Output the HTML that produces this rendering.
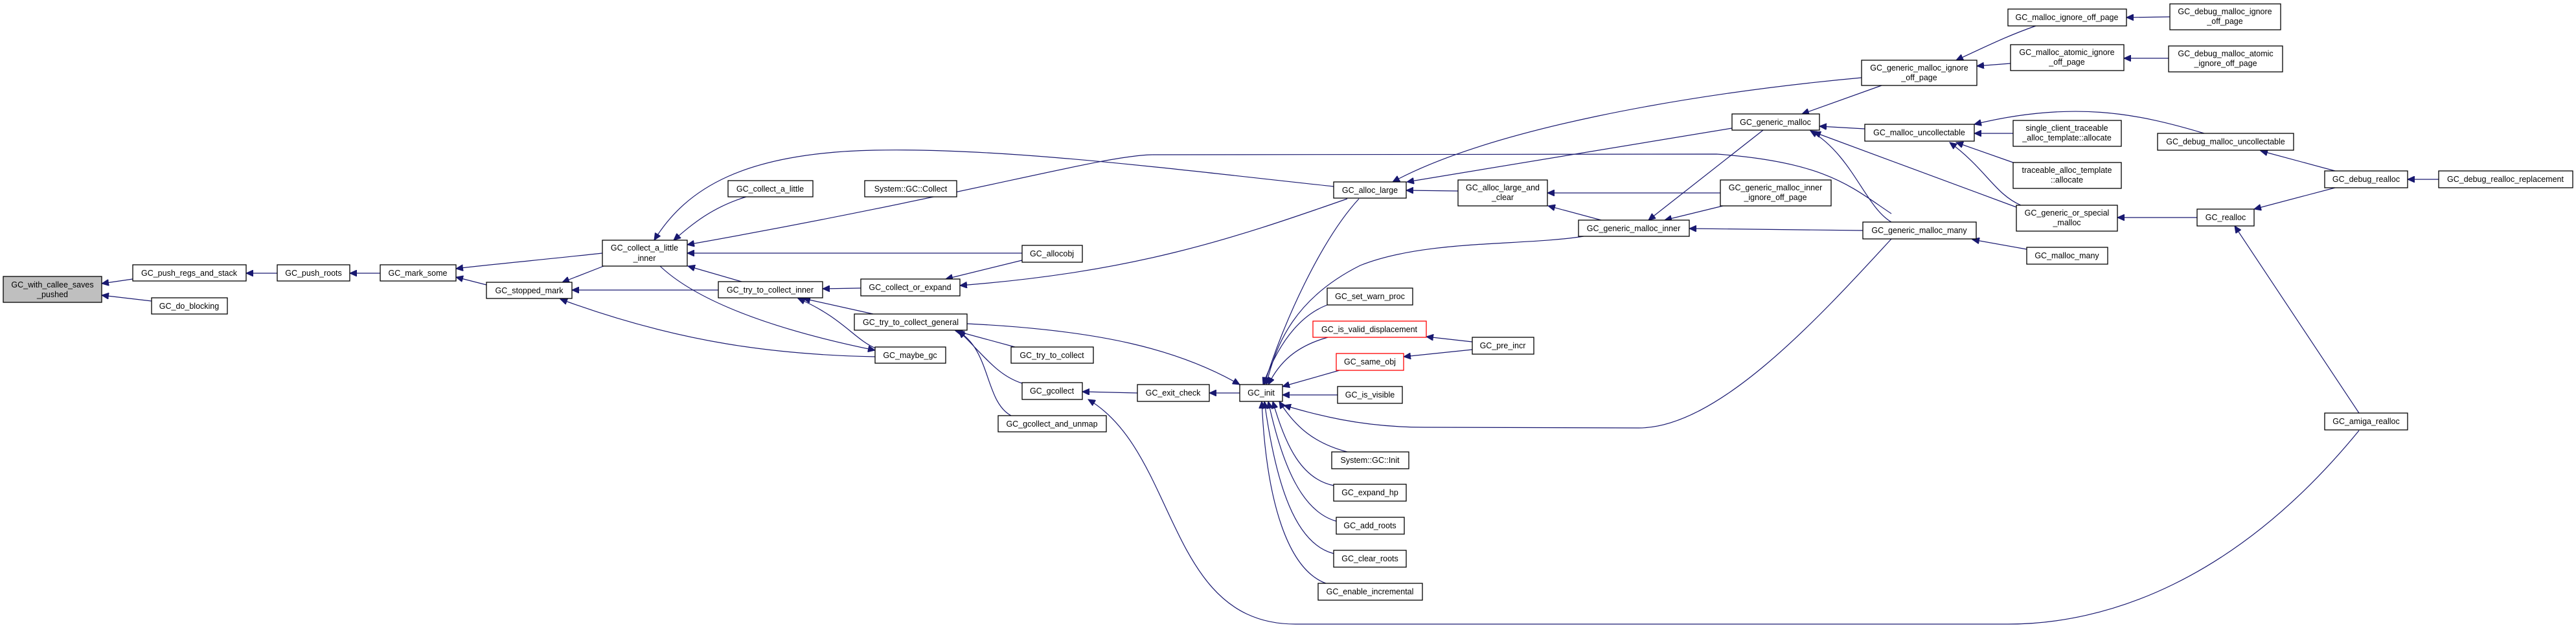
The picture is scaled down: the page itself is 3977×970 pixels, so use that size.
<!DOCTYPE html>
<html><head><meta charset="utf-8"><style>
html,body{margin:0;padding:0;background:#fff;}
svg{display:block;}
text{font-family:"Liberation Sans",Arial,sans-serif;font-size:12.5px;fill:#000;}
.n{fill:#fff;stroke:#000;stroke-width:1.3;}
.e{fill:none;stroke:#191970;stroke-width:1.2;}
</style></head><body>
<svg width="3977" height="970" viewBox="0 0 3977 970" xmlns="http://www.w3.org/2000/svg">
<defs><marker id="a" markerUnits="userSpaceOnUse" markerWidth="12" markerHeight="10" refX="11" refY="5" orient="auto"><path d="M0,0 L11,5 L0,10 z" fill="#191970" stroke="#191970"/></marker></defs>
<g class="e" marker-end="url(#a)">
<path d="M205,431 L157,438"/>
<path d="M234,465 L157,456"/>
<path d="M428,422 L380,422"/>
<path d="M587,422 L540,422"/>
<path d="M930,391 C850,400 760,408 704,415"/>
<path d="M751,440 L704,428"/>
<path d="M932,411 L868,436"/>
<path d="M1109,448 L883,448"/>
<path d="M1351,551 C1200,548 1050,530 865,462"/>
<path d="M1152,304 C1100,320 1070,345 1040,371"/>
<path d="M1145,435 L1062,411"/>
<path d="M2059,288 C1800,260 1550,228 1350,232 C1150,236 1060,290 1010,371"/>
<path d="M2920,330 C2860,290 2820,250 2650,238 L1780,239 C1700,240 1500,300 1061,378"/>
<path d="M1578,391 L1061,391"/>
<path d="M1019,411 C1060,450 1150,500 1351,541"/>
<path d="M1329,445 L1270,446"/>
<path d="M1348,485 L1240,461"/>
<path d="M1352,538 C1320,525 1300,490 1232,461"/>
<path d="M1578,402 L1460,431"/>
<path d="M2080,307 C1900,370 1750,420 1482,441"/>
<path d="M1567,536 L1475,511"/>
<path d="M1578,592 C1540,580 1520,550 1480,511"/>
<path d="M1561,642 C1520,620 1530,540 1478,511"/>
<path d="M1493,500 C1700,510 1820,540 1914,594"/>
<path d="M1756,607 L1671,605"/>
<path d="M1914,607 L1867,607"/>
<path d="M3642,665 C3450,900 3250,964 3100,964 L2000,964 C1800,964 1820,700 1680,617"/>
<path d="M2049,471 C2000,490 1970,540 1950,594"/>
<path d="M2050,521 C2000,535 1975,560 1958,594"/>
<path d="M2068,572 L1980,597"/>
<path d="M2065,610 L1980,610"/>
<path d="M2080,698 C2030,685 2000,660 1975,620"/>
<path d="M2059,750 C2010,740 1985,690 1965,620"/>
<path d="M2063,805 C2010,790 1980,720 1958,620"/>
<path d="M2059,855 C2000,840 1970,750 1952,620"/>
<path d="M2047,901 C1990,880 1955,780 1948,620"/>
<path d="M2098,307 C2040,370 1980,500 1952,594"/>
<path d="M2445,365 C2350,380 2200,370 2100,410 C2000,460 1970,530 1955,594"/>
<path d="M2920,369 C2800,500 2650,661 2530,661 L2200,660 C2100,660 2030,640 1982,626"/>
<path d="M2251,295 L2171,294"/>
<path d="M2674,198 L2172,281"/>
<path d="M2874,120 C2600,145 2300,200 2150,281"/>
<path d="M2656,298 L2389,298"/>
<path d="M2472,340 L2390,318"/>
<path d="M2722,201 L2545,340"/>
<path d="M2660,318 L2570,340"/>
<path d="M2876,356 L2608,353"/>
<path d="M2273,528 L2202,520"/>
<path d="M2273,540 L2167,551"/>
<path d="M2905,132 L2782,176"/>
<path d="M2879,199 L2809,195"/>
<path d="M2920,343 C2880,320 2860,240 2795,202"/>
<path d="M3113,320 L2800,204"/>
<path d="M3120,317 C3080,300 3065,260 3010,220"/>
<path d="M3108,251 L3020,220"/>
<path d="M3108,206 L3048,206"/>
<path d="M3403,206 C3300,175 3200,155 3048,192"/>
<path d="M3143,40 C3100,55 3070,70 3020,93"/>
<path d="M3104,98 L3052,102"/>
<path d="M3350,26 L3283,27"/>
<path d="M3348,90 L3279,90"/>
<path d="M3129,385 L3045,370"/>
<path d="M3392,336 L3269,336"/>
<path d="M3605,290 L3480,323"/>
<path d="M3642,638 L3450,349"/>
<path d="M3605,264 L3490,233"/>
<path d="M3765,277 L3717,277"/>
</g>
<g>
<rect x="5" y="427" width="152" height="40" fill="#bfbfbf" stroke="#000" stroke-width="1.3"/>
<text x="81" y="444" text-anchor="middle">GC_with_callee_saves</text><text x="81" y="459" text-anchor="middle">_pushed</text>
</g>
<g text-anchor="middle">
<rect class="n" x="205" y="409" width="175" height="25"/><text x="292" y="426">GC_push_regs_and_stack</text>
<rect class="n" x="234" y="460" width="117" height="25"/><text x="292" y="477">GC_do_blocking</text>
<rect class="n" x="428" y="409" width="112" height="25"/><text x="484" y="426">GC_push_roots</text>
<rect class="n" x="587" y="409" width="117" height="25"/><text x="645" y="426">GC_mark_some</text>
<rect class="n" x="751" y="436" width="132" height="25"/><text x="817" y="453">GC_stopped_mark</text>
<rect class="n" x="930" y="371" width="131" height="40"/><text x="995" y="387">GC_collect_a_little</text><text x="995" y="403">_inner</text>
<rect class="n" x="1124" y="279" width="131" height="25"/><text x="1189" y="296">GC_collect_a_little</text>
<rect class="n" x="1335" y="279" width="142" height="25"/><text x="1406" y="296">System::GC::Collect</text>
<rect class="n" x="1578" y="379" width="93" height="26"/><text x="1624" y="396">GC_allocobj</text>
<rect class="n" x="1329" y="431" width="153" height="26"/><text x="1405" y="448">GC_collect_or_expand</text>
<rect class="n" x="1109" y="435" width="161" height="25"/><text x="1189" y="452">GC_try_to_collect_inner</text>
<rect class="n" x="1319" y="485" width="174" height="25"/><text x="1406" y="502">GC_try_to_collect_general</text>
<rect class="n" x="1351" y="536" width="109" height="25"/><text x="1405" y="553">GC_maybe_gc</text>
<rect class="n" x="1561" y="536" width="127" height="25"/><text x="1624" y="553">GC_try_to_collect</text>
<rect class="n" x="1578" y="591" width="93" height="26"/><text x="1624" y="608">GC_gcollect</text>
<rect class="n" x="1541" y="642" width="167" height="25"/><text x="1624" y="659">GC_gcollect_and_unmap</text>
<rect class="n" x="1756" y="594" width="111" height="26"/><text x="1811" y="611">GC_exit_check</text>
<rect class="n" x="1914" y="594" width="66" height="26"/><text x="1947" y="611">GC_init</text>
<rect class="n" x="2059" y="281" width="112" height="25"/><text x="2115" y="298">GC_alloc_large</text>
<rect class="n" x="2251" y="278" width="138" height="40"/><text x="2320" y="294">GC_alloc_large_and</text><text x="2320" y="309">_clear</text>
<rect class="n" x="2437" y="340" width="171" height="25"/><text x="2522" y="357">GC_generic_malloc_inner</text>
<rect class="n" x="2674" y="176" width="135" height="25"/><text x="2741" y="193">GC_generic_malloc</text>
<rect class="n" x="2656" y="278" width="171" height="40"/><text x="2741" y="294">GC_generic_malloc_inner</text><text x="2741" y="309">_ignore_off_page</text>
<rect class="n" x="2874" y="93" width="178" height="39"/><text x="2963" y="109">GC_generic_malloc_ignore</text><text x="2963" y="124">_off_page</text>
<rect class="n" x="2879" y="192" width="169" height="26"/><text x="2963" y="209">GC_malloc_uncollectable</text>
<rect class="n" x="2876" y="343" width="175" height="26"/><text x="2963" y="360">GC_generic_malloc_many</text>
<rect class="n" x="2049" y="445" width="132" height="26"/><text x="2115" y="462">GC_set_warn_proc</text>
<rect x="2027" y="496" width="175" height="25" fill="#fff" stroke="#ff0000" stroke-width="1.3"/><text x="2114" y="513">GC_is_valid_displacement</text>
<rect x="2063" y="546" width="104" height="26" fill="#fff" stroke="#ff0000" stroke-width="1.3"/><text x="2115" y="563">GC_same_obj</text>
<rect class="n" x="2273" y="521" width="95" height="26"/><text x="2320" y="538">GC_pre_incr</text>
<rect class="n" x="2065" y="597" width="100" height="26"/><text x="2115" y="614">GC_is_visible</text>
<rect class="n" x="2056" y="698" width="119" height="26"/><text x="2115" y="715">System::GC::Init</text>
<rect class="n" x="2059" y="748" width="112" height="26"/><text x="2115" y="765">GC_expand_hp</text>
<rect class="n" x="2063" y="799" width="105" height="26"/><text x="2115" y="816">GC_add_roots</text>
<rect class="n" x="2059" y="850" width="112" height="26"/><text x="2115" y="867">GC_clear_roots</text>
<rect class="n" x="2035" y="901" width="161" height="26"/><text x="2115" y="918">GC_enable_incremental</text>
<rect class="n" x="3100" y="14" width="183" height="26"/><text x="3191" y="31">GC_malloc_ignore_off_page</text>
<rect class="n" x="3350" y="6" width="171" height="40"/><text x="3435" y="22">GC_debug_malloc_ignore</text><text x="3435" y="37">_off_page</text>
<rect class="n" x="3104" y="69" width="175" height="40"/><text x="3191" y="85">GC_malloc_atomic_ignore</text><text x="3191" y="100">_off_page</text>
<rect class="n" x="3348" y="71" width="176" height="40"/><text x="3436" y="87">GC_debug_malloc_atomic</text><text x="3436" y="102">_ignore_off_page</text>
<rect class="n" x="3108" y="186" width="167" height="40"/><text x="3191" y="202">single_client_traceable</text><text x="3191" y="217">_alloc_template::allocate</text>
<rect class="n" x="3108" y="251" width="167" height="40"/><text x="3191" y="267">traceable_alloc_template</text><text x="3191" y="282">::allocate</text>
<rect class="n" x="3113" y="317" width="156" height="40"/><text x="3191" y="333">GC_generic_or_special</text><text x="3191" y="348">_malloc</text>
<rect class="n" x="3129" y="382" width="125" height="26"/><text x="3191" y="399">GC_malloc_many</text>
<rect class="n" x="3331" y="206" width="210" height="26"/><text x="3436" y="223">GC_debug_malloc_uncollectable</text>
<rect class="n" x="3589" y="264" width="128" height="26"/><text x="3653" y="281">GC_debug_realloc</text>
<rect class="n" x="3765" y="264" width="207" height="26"/><text x="3868" y="281">GC_debug_realloc_replacement</text>
<rect class="n" x="3392" y="323" width="88" height="26"/><text x="3436" y="340">GC_realloc</text>
<rect class="n" x="3589" y="638" width="128" height="26"/><text x="3653" y="655">GC_amiga_realloc</text>
</g>
</svg>
</body></html>
